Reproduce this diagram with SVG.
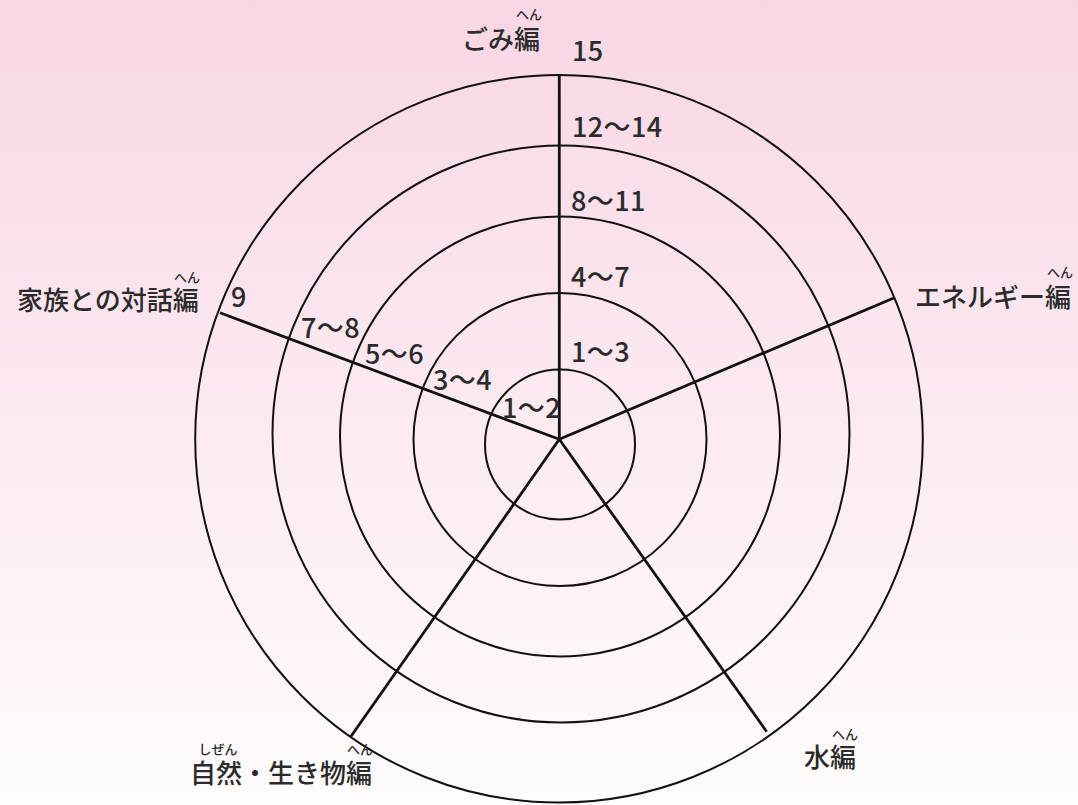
<svg xmlns="http://www.w3.org/2000/svg" width="1078" height="805" viewBox="0 0 1078 805">
<defs>
<linearGradient id="bg" x1="0" y1="0" x2="0" y2="1">
<stop offset="0" stop-color="#f8d6e4"/>
<stop offset="1" stop-color="#fffcfd"/>
</linearGradient>
<style>
.ring{fill:none;stroke:#111;stroke-width:2}
.spoke{stroke:#111;stroke-width:2.8;stroke-linecap:butt}
.lbl{font-family:"Noto Sans CJK JP","Noto Sans",sans-serif;font-size:26px;font-weight:500;fill:#2b2b2b}
.num{font-family:"Noto Sans CJK JP","Noto Sans",sans-serif;font-size:27px;font-weight:500;fill:#2b2b2b;letter-spacing:0.4px}
.ruby{font-family:"Noto Sans CJK JP",sans-serif;font-size:13px;font-weight:500;fill:#2b2b2b;text-anchor:middle}
</style>
</defs>
<rect x="0" y="0" width="1078" height="805" fill="url(#bg)"/>
<g id="rings">
<circle class="ring" cx="560" cy="444.5" r="75"/>
<circle class="ring" cx="560" cy="439.5" r="146.5"/>
<circle class="ring" cx="560" cy="436.5" r="220"/>
<circle class="ring" cx="561" cy="434" r="288.5"/>
<circle class="ring" cx="559" cy="438.7" r="363.8"/>
</g>
<g id="connectors">
<line class="spoke" x1="559.3" y1="439.3" x2="559.3" y2="76"/>
<line class="spoke" x1="559.3" y1="439.3" x2="895" y2="297.5"/>
<line class="spoke" x1="559.3" y1="439.3" x2="220" y2="312.7"/>
<line class="spoke" x1="559.3" y1="439.3" x2="350.7" y2="736.7"/>
<line class="spoke" x1="559.3" y1="439.3" x2="766.7" y2="731.7"/>
</g>
<g id="node-gomi">
<text class="lbl" x="462" y="49">ごみ編</text>
<text class="ruby" x="529" y="19">へん</text>
</g>
<g id="node-energy">
<text class="lbl" x="915" y="307">エネルギー編</text>
<text class="ruby" x="1060" y="277">へん</text>
</g>
<g id="node-mizu">
<text class="lbl" x="804" y="767">水編</text>
<text class="ruby" x="845" y="739">へん</text>
</g>
<g id="node-shizen">
<text class="lbl" x="190" y="783">自然・生き物編</text>
<text class="ruby" x="218" y="754">しぜん</text>
<text class="ruby" x="360" y="754">へん</text>
</g>
<g id="node-kazoku">
<text class="lbl" x="17" y="310">家族との対話編</text>
<text class="ruby" x="187" y="282">へん</text>
</g>
<g id="scale-top">
<text class="num" x="572" y="61">15</text>
<text class="num" x="572" y="137">12～14</text>
<text class="num" x="571" y="211">8～11</text>
<text class="num" x="571" y="287">4～7</text>
<text class="num" x="571" y="362">1～3</text>
</g>
<g id="scale-left">
<text class="num" x="231" y="307">9</text>
<text class="num" x="301" y="338">7～8</text>
<text class="num" x="365" y="364">5～6</text>
<text class="num" x="433" y="390">3～4</text>
<text class="num" x="502" y="418">1～2</text>
</g>
</svg>
